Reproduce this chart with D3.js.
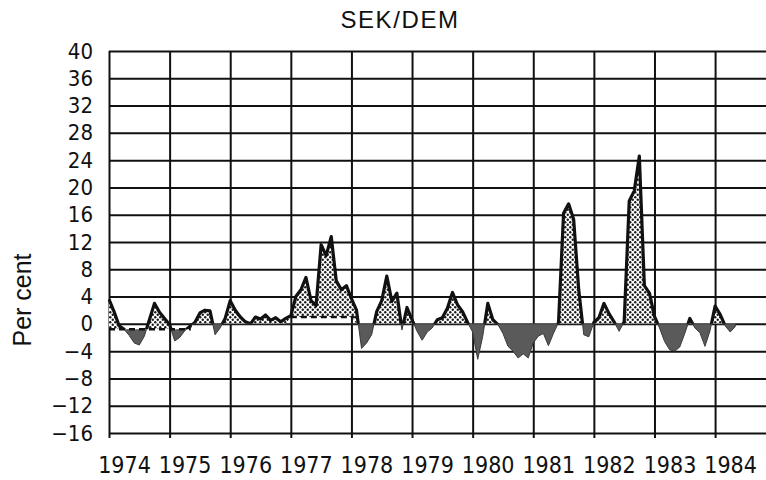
<!DOCTYPE html>
<html>
<head>
<meta charset="utf-8">
<script src="https://cdn.jsdelivr.net/npm/d3@7"></script>
<style>
    body { margin: 0; background: #fff; }
    text { font-family: "Liberation Sans Narrow", "DejaVu Sans Condensed", sans-serif; fill: #111; }
</style>
</head>
<body>
<svg id="drawing_region"></svg>
<script>
const title = "SEK/DEM";
const yLabel = "Per cent";
const yearTicks = [1974, 1975, 1976, 1977, 1978, 1979, 1980, 1981, 1982, 1983, 1984];
const percentTicks = [-16, -12, -8, -4, 0, 4, 8, 12, 16, 20, 24, 28, 32, 36, 40];
const firstYear = 1974;
const lastYear = 1984.84;

// monthly values, Jan 1974 onwards (per cent)
const monthlyValues = [
    3.6, 1.8, -0.3, -0.8, -1.7, -2.8, -3.1, -1.8, 0.6, 3.0, 1.7, 0.8,
    -0.1, -2.5, -2.0, -1.0, -0.4, 0.2, 1.6, 2.0, 1.9, -1.6, -0.6, 0.8,
    3.4, 2.0, 1.0, 0.3, 0.0, 1.0, 0.7, 1.3, 0.5, 0.9, 0.3, 0.8,
    1.2, 4.0, 5.0, 6.8, 3.4, 2.7, 11.6, 10.0, 12.8, 6.3, 5.0, 5.6,
    3.7, 2.0, -3.6, -2.8, -1.6, 1.8, 3.4, 7.0, 3.3, 4.5, -0.9, 2.4,
    0.6, -1.1, -2.4, -1.2, -0.6, 0.6, 0.9, 2.3, 4.6, 2.8, 1.8, 0.2,
    -1.2, -5.2, -1.8, 3.0, 0.6, -0.1, -1.4, -3.3, -4.0, -5.0, -4.4, -5.0,
    -2.8, -1.8, -1.4, -3.2, -1.4, 0.2, 16.2, 17.6, 15.3, 5.0, -1.6, -1.9,
    0.2, 0.9, 3.0, 1.5, 0.3, -1.1, 0.3, 18.0, 19.5, 24.6, 5.6, 4.5,
    1.1, -0.6, -2.6, -3.8, -4.0, -3.4, -1.4, 0.8, -0.6, -1.3, -3.3, -1.0,
    2.6, 1.4, -0.3, -1.2, -0.4
];

// dashed reference level under the dotted area
const bandStarts = [1974.0, 1977.0];
const bandEnds = [1975.35, 1978.05];
const bandLevels = [-0.8, 1.0];

class PremiumChart {

    constructor(config, values) {
        this.config = {
            parent: config.parent,
            width: config.width || 766,
            height: config.height || 480,
            margin: config.margin || { top: 10, right: 10, bottom: 10, left: 10 }
        }
        this.data = values.map((v, i) => ({ t: firstYear + i / 12, v: v }));
        this.init();
    }

    bandAt(t) {
        for (let i = 0; i < bandStarts.length; i++) {
            if (t >= bandStarts[i] && t <= bandEnds[i]) return bandLevels[i];
        }
        return 0;
    }

    init() {
        let self = this;

        self.svg = d3.select(self.config.parent)
            .attr('width', self.config.width)
            .attr('height', self.config.height);

        self.chart = self.svg.append('g')
            .attr('transform', `translate(${self.config.margin.left}, ${self.config.margin.top})`);

        self.inner_width = self.config.width - self.config.margin.left - self.config.margin.right;
        self.inner_height = self.config.height - self.config.margin.top - self.config.margin.bottom;

        self.xscale = d3.scaleLinear()
            .domain([firstYear, lastYear])
            .range([0, self.inner_width]);

        self.yscale = d3.scaleLinear()
            .domain([-16, 40])
            .range([self.inner_height, 0]);

        const defs = self.svg.append('defs');
        const pat = defs.append('pattern')
            .attr('id', 'dots')
            .attr('patternUnits', 'userSpaceOnUse')
            .attr('width', 5)
            .attr('height', 5);
        pat.append('rect').attr('width', 5).attr('height', 5).attr('fill', '#fff');
        pat.append('circle').attr('cx', 1.25).attr('cy', 1.25).attr('r', 1.2).attr('fill', '#1a1a1a');
        pat.append('circle').attr('cx', 3.75).attr('cy', 3.75).attr('r', 1.2).attr('fill', '#1a1a1a');

        // band intervals across the whole x range
        let cuts = [firstYear];
        bandStarts.forEach((s, i) => { cuts.push(s); cuts.push(bandEnds[i]); });
        cuts.push(lastYear);
        cuts = Array.from(new Set(cuts)).sort((a, b) => a - b);
        self.intervals = d3.pairs(cuts).map(([a, b]) => ({ a: a, b: b, level: self.bandAt((a + b) / 2) }));

        const above = defs.append('clipPath').attr('id', 'above');
        above.selectAll('rect')
            .data(self.intervals)
            .join('rect')
            .attr('x', d => self.xscale(d.a) - 1)
            .attr('width', d => self.xscale(d.b) - self.xscale(d.a) + 2)
            .attr('y', -10)
            .attr('height', d => self.yscale(d.level) + 10);

        const below = defs.append('clipPath').attr('id', 'below');
        below.selectAll('rect')
            .data(self.intervals)
            .join('rect')
            .attr('x', d => self.xscale(d.a) - 1)
            .attr('width', d => self.xscale(d.b) - self.xscale(d.a) + 2)
            .attr('y', d => self.yscale(Math.min(d.level, 0)))
            .attr('height', d => self.inner_height - self.yscale(Math.min(d.level, 0)) + 10);

        self.xaxis = d3.axisBottom(self.xscale)
            .tickValues(yearTicks)
            .tickFormat(d3.format('d'))
            .tickSize(-(self.inner_height + 5));

        self.yaxis = d3.axisLeft(self.yscale)
            .tickValues(percentTicks)
            .tickFormat(d3.format('d'))
            .tickSize(-self.inner_width)
            .tickPadding(16);

        self.xaxis_group = self.chart.append('g')
            .attr('transform', `translate(0, ${self.inner_height + 5})`);

        self.yaxis_group = self.chart.append('g');

        self.svg.append("text")
            .attr('x', 400)
            .attr('y', 28)
            .attr("text-anchor", "middle")
            .style("font-family", '"Liberation Sans", sans-serif')
            .attr("font-size", "24px")
            .attr("letter-spacing", "1.6px")
            .text(title);

        self.svg.append("text")
            .attr('transform', `translate(31, 300) rotate(-90)`)
            .attr("text-anchor", "middle")
            .style("font-family", '"Liberation Sans", sans-serif')
            .attr("font-size", "25px")
            .text(yLabel);
    }

    render() {
        let self = this;

        self.xaxis_group.call(self.xaxis);
        self.xaxis_group.select('.domain').remove();
        self.xaxis_group.selectAll('.tick line')
            .attr('stroke', '#111')
            .attr('stroke-width', 2);
        self.xaxis_group.selectAll('.tick text')
            .attr('x', 15)
            .attr('y', 19)
            .attr('fill', '#111')
            .attr('font-size', '23px');

        self.yaxis_group.call(self.yaxis);
        self.yaxis_group.select('.domain').remove();
        self.yaxis_group.selectAll('.tick line')
            .attr('stroke', '#111')
            .attr('stroke-width', 2);
        self.yaxis_group.selectAll('.tick text')
            .attr('fill', '#111')
            .attr('font-size', '22px');

        const dotted = d3.area()
            .x(d => self.xscale(d.t))
            .y0(d => self.yscale(self.bandAt(d.t)))
            .y1(d => self.yscale(d.v));

        const shaded = d3.area()
            .x(d => self.xscale(d.t))
            .y0(self.yscale(0))
            .y1(d => self.yscale(d.v));

        const line = d3.line()
            .x(d => self.xscale(d.t))
            .y(d => self.yscale(d.v));

        self.chart.append('path')
            .datum(self.data)
            .attr('clip-path', 'url(#below)')
            .attr('fill', '#5a5a5a')
            .attr('stroke', '#3a3a3a')
            .attr('stroke-width', 1)
            .attr('d', shaded);

        self.chart.append('path')
            .datum(self.data)
            .attr('clip-path', 'url(#above)')
            .attr('fill', 'url(#dots)')
            .attr('d', dotted);

        self.chart.selectAll('.band')
            .data(bandLevels)
            .join('line')
            .attr('class', 'band')
            .attr('x1', (d, i) => self.xscale(bandStarts[i]))
            .attr('x2', (d, i) => self.xscale(bandEnds[i]))
            .attr('y1', d => self.yscale(d))
            .attr('y2', d => self.yscale(d))
            .attr('stroke', '#111')
            .attr('stroke-width', 2.5)
            .attr('stroke-dasharray', '6,4');

        self.chart.append('path')
            .datum(self.data)
            .attr('clip-path', 'url(#above)')
            .attr('fill', 'none')
            .attr('stroke', '#111')
            .attr('stroke-width', 3.2)
            .attr('stroke-linejoin', 'round')
            .attr('d', line);
    }
}

var config = {
    parent: '#drawing_region',
    width: 766,
    height: 480,
    margin: { top: 51, right: 0, bottom: 47, left: 109 }
};

const chart = new PremiumChart(config, monthlyValues);
chart.render();
</script>
</body>
</html>
